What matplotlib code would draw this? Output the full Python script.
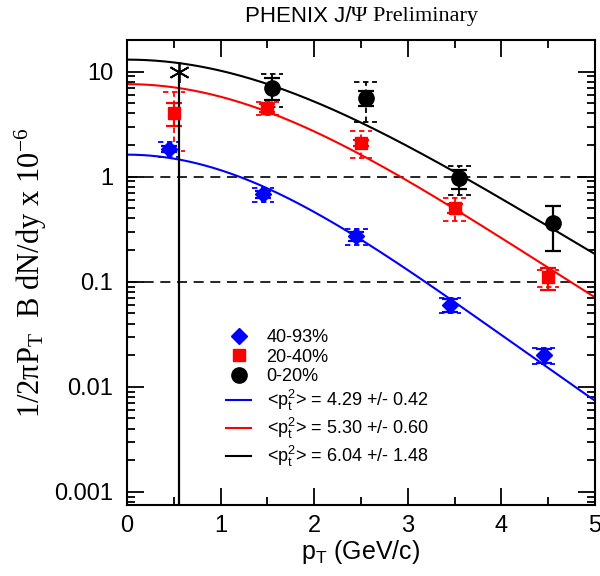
import numpy as np
import matplotlib
matplotlib.use("Agg")
import matplotlib.pyplot as plt
from matplotlib.lines import Line2D

plt.rcParams['font.family'] = ['Liberation Sans', 'DejaVu Sans']
plt.rcParams['mathtext.fontset'] = 'custom'
plt.rcParams['mathtext.rm'] = 'Liberation Sans'
plt.rcParams['mathtext.it'] = 'Liberation Sans'

# 40-93% (blue diamonds)
blue_x = [0.45, 1.45, 2.45, 3.45, 4.45]
blue_y = [1.85, 0.68, 0.27, 0.060, 0.020]
blue_stat = [0.12, 0.05, 0.025, 0.009, 0.003]
blue_sys = [0.30, 0.10, 0.045, 0.010, 0.0035]

# 20-40% (red squares)
red_x = [0.5, 1.5, 2.5, 3.5, 4.5]
red_y = [4.05, 4.5, 2.1, 0.50, 0.11]
red_stat = [1.0, 0.4, 0.15, 0.05, 0.026]
red_sys = [2.3, 0.65, 0.6, 0.12, 0.02]

# 0-20% (black circles)
black_x = [1.55, 2.55, 3.55, 4.55]
black_y = [7.0, 5.6, 0.97, 0.36]
black_stat = [1.6, 0.9, 0.2, 0.165]
black_sys = [2.4, 2.3, 0.3, 0.0]

# extra point (asterisk with line)
star_x = 0.55
star_y = 10.0

# fit parameters: A, <pt^2>, error
fit_A = [1.62, 7.6, 13.0]
fit_pt2 = [4.29, 5.30, 6.04]
fit_err = [0.42, 0.60, 1.48]
fit_colors = ['blue', 'red', 'black']

ymin, ymax = 7.5e-4, 20

fig = plt.figure(figsize=(6, 5.76), dpi=100)
ax = fig.add_axes([0.2117, 0.1233, 0.78, 0.8073])

# fit curves: A * (1 + pT^2 / (4<pt^2>))^-6
pt = np.linspace(0, 5, 300)
for A, m2, c in zip(fit_A, fit_pt2, fit_colors):
    ax.plot(pt, A * (1 + pt**2 / (4 * m2))**-6, color=c, lw=1.5, zorder=2)

ax.axhline(1, color='black', ls='--', lw=1.2, dashes=(6, 4), zorder=1)
ax.axhline(0.1, color='black', ls='--', lw=1.2, dashes=(6, 4), zorder=1)


def draw_set(x, y, stat, sys, color, marker, ms):
    x = np.array(x); y = np.array(y); sys = np.array(sys)
    for xi, yi, s in zip(x, y, sys):
        if s <= 0:
            continue
        ax.hlines([yi - s, yi + s], xi - 0.12, xi + 0.12, colors=color,
                  linestyles=(0, (3, 2)), lw=1.3, zorder=3)
        ax.vlines(xi, yi - s, yi + s, colors=color,
                  linestyles=(0, (3, 2)), lw=1.3, zorder=3)
    ax.errorbar(x, y, yerr=stat, fmt=marker, color=color, ms=ms,
                capsize=6, capthick=1.6, elinewidth=1.6, zorder=4)


draw_set(blue_x, blue_y, blue_stat, blue_sys, 'blue', 'D', 8)
draw_set(red_x, red_y, red_stat, red_sys, 'red', 's', 9)
draw_set(black_x, black_y, black_stat, black_sys, 'black', 'o', 11)

ax.vlines(star_x, ymin, star_y, colors='black', lw=1.6, zorder=4)
ax.plot([star_x], [star_y], marker=(6, 2, 0), color='black', ms=15, mew=1.3,
        ls='none', zorder=5)

ax.set_yscale('log')
ax.set_xlim(0, 5)
ax.set_ylim(ymin, ymax)
ax.set_xticks([0, 1, 2, 3, 4, 5])
ax.set_xticks(np.arange(0.5, 5, 1.0), minor=True)
ax.set_yticks([0.001, 0.01, 0.1, 1, 10])
ax.set_yticklabels(['0.001', '0.01', '0.1', '1', '10'])
ax.tick_params(which='both', direction='in', top=True, right=True,
               labelsize=17, width=1.3)
ax.tick_params(which='major', length=12, pad=7)
ax.tick_params(axis='y', which='major', pad=10)
ax.tick_params(which='minor', length=6)
for sp in ax.spines.values():
    sp.set_linewidth(1.5)

ax.set_xlabel('p$_T$ (GeV/c)', fontsize=18, labelpad=1)
ax.set_ylabel(r'1/2$\mathregular{\pi P_T}$  B dN/dy x 10$\mathregular{^{-6}}$',
              fontsize=22, family='Liberation Serif', labelpad=4)

fig.text(0.585, 0.972, 'PHENIX J/', ha='right', va='center', fontsize=16)
fig.text(0.585, 0.972, 'Ψ Preliminary', ha='left', va='center', fontsize=16,
         family='Liberation Serif')

handles = [
    Line2D([], [], color='blue', marker='D', ls='none', ms=8),
    Line2D([], [], color='red', marker='s', ls='none', ms=9),
    Line2D([], [], color='black', marker='o', ls='none', ms=11),
]
labels = ['40-93%', '20-40%', '0-20%']
for c, m2, e in zip(fit_colors, fit_pt2, fit_err):
    handles.append(Line2D([], [], color=c, lw=1.5))
    labels.append('<p$^2_t$> = %.2f +/- %.2f' % (m2, e))
ax.legend(handles, labels, loc='upper left', bbox_to_anchor=(0.196, 0.394),
          frameon=False, fontsize=13, handlelength=1.4, handletextpad=0.85,
          labelspacing=0.15, borderaxespad=0)

fig.savefig('out.png', dpi=100)
